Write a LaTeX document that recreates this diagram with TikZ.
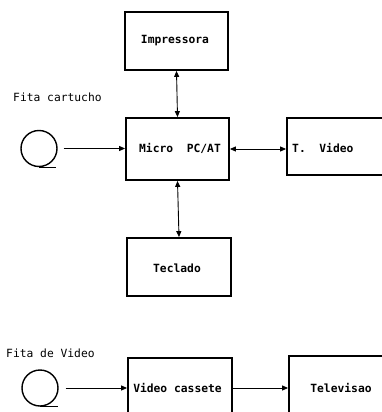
\documentclass[tikz,border=0pt]{standalone}
\usepackage{fontspec}
\setmonofont{DejaVu Sans Mono}
\usetikzlibrary{arrows.meta}
\begin{document}
\begin{tikzpicture}[x=1pt,y=-1pt,
  boxst/.style={draw,line width=1.8pt,rectangle,inner sep=0pt},
  txt/.style={font=\ttfamily\bfseries\fontsize{11.3}{13}\selectfont,inner sep=0pt},
  lbl/.style={font=\ttfamily\fontsize{11.3}{13}\selectfont,inner sep=0pt,anchor=west},
  conn/.style={line width=0.9pt},
  tip/.style={-{Triangle[length=6pt,width=5pt]}},
  dtip/.style={{Triangle[length=6pt,width=5pt]}-{Triangle[length=6pt,width=5pt]}},
  tape/.style={draw,line width=1.4pt,circle,minimum size=36pt,inner sep=0pt}]
\useasboundingbox (0,0) rectangle (382,412);
\clip (0,0) rectangle (382,412);
% boxes
\node[boxst,minimum width=103pt,minimum height=58pt] (imp) at (176.5,41) {};
\node[boxst,minimum width=103pt,minimum height=62pt] (pc) at (177.5,149) {};
\node[boxst,minimum width=114pt,minimum height=57pt] (tvid) at (344,146.5) {};
\node[boxst,minimum width=104pt,minimum height=58pt] (tec) at (179,267) {};
\node[boxst,minimum width=104pt,minimum height=70pt] (vcr) at (180,393) {};
\node[boxst,minimum width=110pt,minimum height=72pt] (tv) at (344,392) {};
% texts
\node[txt] (timp) at (175,41) {Impressora};
\node[txt] (tpc) at (180,148) {Micro\ \ PC/AT};
\node[txt,anchor=west] (ttvid) at (292,148) {T.\ \ Video};
\node[txt] (ttec) at (177,268) {Teclado};
\node[txt] (tvcr) at (177.5,388) {Video cassete};
\node[txt] (ttv) at (341,388) {Televisao};
% labels
\node[lbl] (lcart) at (13,97) {Fita cartucho};
\node[lbl] (lvid) at (6,353) {Fita de Video};
% tapes
\node[tape] (c1) at (39,148.5) {};
\draw[line width=1.4pt] (c1.south) -- ++(17,0) coordinate (c1t);
\node[tape] (c2) at (40,388) {};
\draw[line width=1.4pt] (c2.south) -- ++(18,0) coordinate (c2t);
% connectors
\draw[conn,tip,shorten <=6pt] (c1.east) -- (c1.east -| pc.west);
\draw[conn,dtip] (imp.south) -- (pc.north);
\draw[conn,dtip] (pc.east) -- (pc.east -| tvid.west);
\draw[conn,dtip] (pc.south) -- (tec.north);
\draw[conn,tip,shorten <=7pt] (c2.east) -- (c2.east -| vcr.west);
\draw[conn,tip] (vcr.east |- tvcr) -- (tv.west |- tvcr);
\end{tikzpicture}
\end{document}
